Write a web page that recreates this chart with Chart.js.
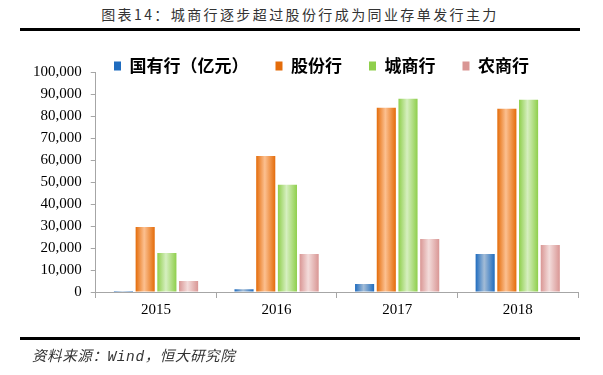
<!DOCTYPE html>
<html>
<head>
<meta charset="utf-8">
<script src="https://cdn.jsdelivr.net/npm/chart.js@4"></script>
<style>
	body { margin: 0; background: #fff; }
	#wrap { position: relative; width: 603px; height: 375px; overflow: hidden; }
	#title { position: absolute; left: 0; top: 4px; width: 600px; text-align: center; font: 14px "Noto Sans CJK SC", serif; letter-spacing: 2.4px; color: #333; }
	.rule { position: absolute; left: 20px; width: 560px; height: 3px; background: #000; }
	#source { position: absolute; left: 32px; top: 344px; font: italic 14.5px "Liberation Mono", "Noto Sans CJK SC", monospace; letter-spacing: 0.6px; color: #333; }
	canvas { position: absolute; left: 0; top: 0; }
</style>
</head>
<body>
<div id="wrap">
	<div id="title">图表14：城商行逐步超过股份行成为同业存单发行主力</div>
	<div class="rule" style="top:28px"></div>
	<canvas id="chart" width="603" height="375"></canvas>
	<div class="rule" style="top:337px"></div>
	<div id="source">资料来源：Wind，恒大研究院</div>
</div>
<script>
// data
var years = ['2015', '2016', '2017', '2018']
var seriesNames = ['国有行（亿元）', '股份行', '城商行', '农商行']
var stateBanks = [500, 1300, 3600, 17300]
var jointStock = [29600, 61800, 83700, 83300]
var cityBanks = [17700, 48700, 87800, 87400]
var ruralBanks = [5000, 17300, 24100, 21400]

// bar colours: edge, centre
var shades = [
	['#1f6cbf', '#a3bcd6'],
	['#e46c0a', '#fcc090'],
	['#8fcf4c', '#d6efc0'],
	['#d99694', '#f3dcdb']
]

// paint each bar with a horizontal gradient
var gradientBars = {
	id: 'gradientBars',
	beforeDatasetsDraw: function (chart) {
		var ctx = chart.ctx
		chart.data.datasets.forEach(function (ds, i) {
			var meta = chart.getDatasetMeta(i)
			meta.data.forEach(function (bar) {
				var g = ctx.createLinearGradient(bar.x - bar.width / 2, 0, bar.x + bar.width / 2, 0)
				g.addColorStop(0, shades[i][0])
				g.addColorStop(0.45, shades[i][1])
				g.addColorStop(1, shades[i][0])
				bar.options = Object.assign({}, bar.options, { backgroundColor: g })
			})
		})
	}
}

// move the legend down into the plot top, like the original
var legendShift = {
	id: 'legendShift',
	afterLayout: function (chart) {
		var lg = chart.legend
		var pad = lg.options.labels.padding
		var x0 = (lg.left + pad + lg.right - lg.lineWidths[0]) / 2
		var dx = 114 - x0
		var dy = 66 - (lg.top + pad + 8.5)
		lg.left += dx; lg.right += dx
		lg.top += dy; lg.bottom += dy
	}
}

var values = [stateBanks, jointStock, cityBanks, ruralBanks]

new Chart(document.getElementById('chart').getContext('2d'), {
	type: 'bar',
	data: {
		labels: years,
		datasets: values.map(function (v, i) {
			return {
				label: seriesNames[i],
				data: v,
				backgroundColor: shades[i][0],
				borderWidth: 0,
				barPercentage: 0.88,
				categoryPercentage: 0.72
			}
		})
	},
	options: {
		responsive: false,
		animation: false,
		layout: {
			padding: { left: 24, right: 25, top: 18, bottom: 53 }
		},
		plugins: {
			legend: {
				labels: {
					font: { family: 'Noto Sans CJK SC', size: 17, weight: 'bold' },
					color: '#000',
					boxWidth: 7,
					boxHeight: 9,
					padding: 27
				}
			},
			tooltip: { enabled: false }
		},
		scales: {
			x: {
				grid: {
					display: true,
					drawOnChartArea: false,
					offset: true,
					tickLength: 6,
					color: '#a6a6a6'
				},
				border: { color: '#a6a6a6' },
				ticks: {
					font: { family: 'Liberation Serif', size: 15 },
					color: '#000',
					padding: 3
				}
			},
			y: {
				min: 0,
				max: 100000,
				grid: {
					drawOnChartArea: false,
					tickLength: 5,
					color: '#a6a6a6'
				},
				border: { color: '#a6a6a6' },
				ticks: {
					stepSize: 10000,
					font: { family: 'Liberation Serif', size: 15 },
					color: '#000',
					padding: 9,
					callback: function (v) { return v.toLocaleString('en-US') }
				}
			}
		}
	},
	plugins: [gradientBars, legendShift]
})
</script>
</body>
</html>
